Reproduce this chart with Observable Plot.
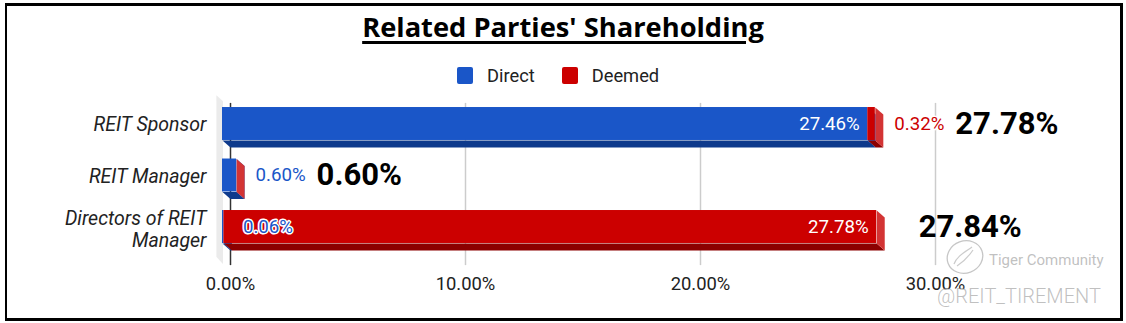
<!DOCTYPE html>
<html>
<head>
<meta charset="utf-8">
<script src="https://cdn.jsdelivr.net/npm/d3@7"></script>
<script src="https://cdn.jsdelivr.net/npm/@observablehq/plot@0.6"></script>
<style>
  html, body { margin: 0; padding: 0; background: #fff; }
  #wrap { position: relative; width: 1126px; height: 323px; overflow: hidden; font-family: Roboto, sans-serif; }
  #chart { position: absolute; left: 0; top: 0; }
  #frame { position: absolute; left: 5px; top: 3px; width: 1118px; height: 318px; box-sizing: border-box;
           border-style: solid; border-color: #000; border-width: 3px 3px 3px 2px; pointer-events: none; }
  #title { position: absolute; left: 0; top: 8px; width: 1126px; text-align: center; line-height: 38px;
           font-family: "Open Sans", sans-serif; font-weight: 700; font-size: 27.3px; color: #000; }
  #title span { text-decoration: underline; text-decoration-thickness: 3px; text-underline-offset: 4px; }
  #legend { position: absolute; left: 457px; top: 66px; height: 18px; display: flex; align-items: center;
            font-family: Roboto, sans-serif; font-size: 18.3px; color: #222; }
  .sw { width: 16px; height: 17px; border-radius: 2px; margin-right: 14px; }
  .lab { margin-right: 27px; }
  .wm1 { position: absolute; left: 989px; top: 253px; font-family: Roboto, sans-serif; font-size: 15px; line-height: 15px;
         color: rgba(140,140,140,0.55); white-space: nowrap; }
  .wm2 { position: absolute; left: 937px; top: 286px; font-family: Roboto, sans-serif; font-weight: 300; font-size: 20px; line-height: 20px;
         color: rgba(150,150,150,0.6); white-space: nowrap; text-shadow: 1px 1px 0 rgba(255,255,255,0.8); }
  #logo { position: absolute; left: 945px; top: 238px; }
</style>
</head>
<body>
<div id="wrap">
  <div id="chart"></div>
  <div id="title"><span>Related Parties' Shareholding</span></div>
  <div id="legend"></div>
  <svg id="logo" width="42" height="38" viewBox="0 0 42 38">
    <ellipse cx="20" cy="19" rx="18" ry="16" fill="none" stroke="rgba(160,160,160,0.6)" stroke-width="1.3" transform="rotate(-20 20 19)"/>
    <path d="M9 26 C12 18, 20 14, 27 9 M12 28 C18 24, 24 18, 28 12" fill="none" stroke="rgba(160,160,160,0.55)" stroke-width="1.2"/>
  </svg>
  <div class="wm1">Tiger Community</div>
  <div class="wm2">@REIT_TIREMENT</div>
  <div id="frame"></div>
</div>
<script>
// ---- data ----
const categories = ["REIT Sponsor", "REIT Manager", "Directors of REIT Manager"];
const categoryLabels = ["REIT Sponsor", "REIT Manager", "Directors of REIT\nManager"];
const series = ["Direct", "Deemed"];
const directValues = [27.46, 0.60, 0.06];
const deemedValues = [0.32, 0.00, 27.78];
const xTicks = [0, 10, 20, 30];

// ---- styles ----
const frontColor = {Direct: "#1a56c8", Deemed: "#cc0000"};
const bottomColor = {Direct: "#0e3a8c", Deemed: "#8c0000"};
const sideColor = {Direct: "#2d62c9", Deemed: "#d33434"};
const labelColor = {Direct: "#1a56c8", Deemed: "#cc0000"};
const HALF = 0.32;   // half bar thickness (row units)
const DX = 0.34;     // 3D depth along x (value units)
const DY = 0.136;    // 3D depth along y (row units)
const fmt = v => v.toFixed(2) + "%";

// legend
const legend = document.getElementById("legend");
series.forEach(s => {
  const sw = document.createElement("div"); sw.className = "sw"; sw.style.background = frontColor[s];
  const lb = document.createElement("div"); lb.className = "lab"; lb.textContent = s;
  legend.appendChild(sw); legend.appendChild(lb);
});

// build segments
const rows = categories.map((c, i) => {
  const vals = [directValues[i], deemedValues[i]];
  const total = vals[0] + vals[1];
  const lastNonZero = vals[1] > 0 ? vals[1] : vals[0];
  return {c, i, total, lastSmall: lastNonZero < 5, multi: categoryLabels[i].includes("\n")};
});
const segs = [];
rows.forEach(r => {
  let x0 = 0;
  series.forEach((s, k) => {
    const v = k === 0 ? directValues[r.i] : deemedValues[r.i];
    segs.push({row: r.i, series: s, x1: x0, x2: x0 + v, value: v});
    x0 += v;
  });
});
const bottomPts = [], sidePts = [];
segs.forEach((d, j) => {
  const yt = d.row - HALF, yb = d.row + HALF;
  [[d.x1, yb], [d.x2, yb], [d.x2 + DX, yb + DY], [d.x1 + DX, yb + DY]]
    .forEach(([x, y]) => bottomPts.push({id: j, series: d.series, x, y}));
  [[d.x2, yt], [d.x2 + DX, yt + DY], [d.x2 + DX, yb + DY], [d.x2, yb]]
    .forEach(([x, y]) => sidePts.push({id: j, series: d.series, x, y}));
});
const wall = [{x: -0.26, y: -0.56}, {x: 0.02, y: -0.44}, {x: 0.02, y: 2.72}, {x: -0.26, y: 2.58}];

const barMarks = [];
series.forEach(s => {
  barMarks.push(
    Plot.rect(segs.filter(d => d.series === s), {x1: "x1", x2: "x2", y1: d => d.row - HALF, y2: d => d.row + HALF, fill: frontColor[s]}),
    Plot.line(bottomPts.filter(d => d.series === s), {x: "x", y: "y", z: "id", fill: bottomColor[s], stroke: "none"}),
    Plot.line(sidePts.filter(d => d.series === s), {x: "x", y: "y", z: "id", fill: sideColor[s], stroke: "none"})
  );
});

const catStyle = {textAnchor: "end", dx: -16, fontSize: 19.5, fontStyle: "italic", fill: "#222", lineHeight: 1.13};

const plot = Plot.plot({
  width: 1126,
  height: 323,
  marginLeft: 222,
  marginRight: 199,
  marginTop: 72,
  marginBottom: 45,
  style: {background: "none", fontFamily: "Roboto, sans-serif"},
  x: {domain: [0, 30], axis: null},
  y: {domain: [-1, 3], reverse: true, axis: null},
  marks: [
    Plot.line(wall, {x: "x", y: "y", fill: "#ebebeb", stroke: "none"}),
    Plot.ruleX(xTicks.filter(d => d > 0), {x: d => d, y1: -0.4, y2: 2.75, dx: 8, stroke: "#cccccc", strokeWidth: 1.5}),
    Plot.ruleX([0], {x: d => d, y1: -0.4, y2: 2.75, dx: 8, stroke: "#333", strokeWidth: 1.5}),
    ...barMarks,
    // tick labels
    Plot.text(xTicks, {x: d => d, frameAnchor: "bottom", dx: 8, dy: 11, text: fmt, fontSize: 18.4, fill: "#222"}),
    // category labels
    Plot.text(rows.filter(d => !d.multi), {x: 0, y: "i", text: d => categoryLabels[d.i], ...catStyle}),
    Plot.text(rows.filter(d => d.multi), {x: 0, y: "i", text: d => categoryLabels[d.i], ...catStyle, dy: 1.5}),
    // inside labels
    Plot.text(segs.filter(d => d.value >= 5), {x: "x2", y: "row", text: d => fmt(d.value), textAnchor: "end", dx: -8,
      fill: "white", fontSize: 18.7}),
    // outside small labels
    ...series.map(s => Plot.text(segs.filter(d => d.series === s && d.value > 0 && d.value < 5),
      {x: "x2", y: "row", text: d => fmt(d.value), textAnchor: "start", dx: 19, fill: labelColor[s],
       stroke: "white", strokeWidth: 3, fontSize: 18.7})),
    // totals
    Plot.text(rows.filter(d => d.lastSmall), {x: "total", y: "i", text: d => fmt(d.total), textAnchor: "start",
      fontSize: 31, fontWeight: "bold", fill: "#000", dx: 80}),
    Plot.text(rows.filter(d => !d.lastSmall), {x: "total", y: "i", text: d => fmt(d.total), textAnchor: "start",
      fontSize: 31, fontWeight: "bold", fill: "#000", dx: 42})
  ]
});
document.getElementById("chart").appendChild(plot);
</script>
</body>
</html>
